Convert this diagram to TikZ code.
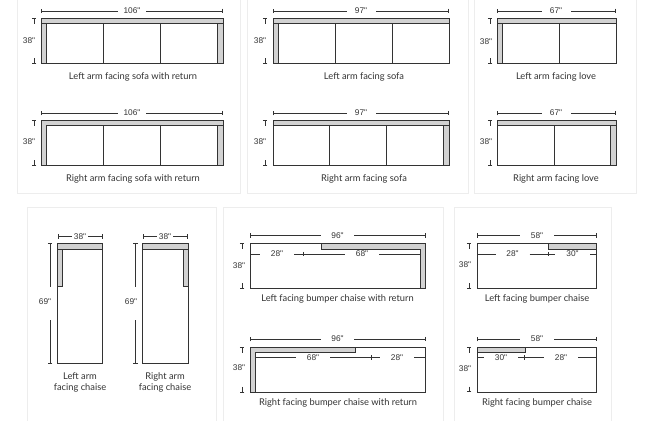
\documentclass[tikz,border=0pt]{standalone}
\usepackage{fontspec}
\setmainfont{Lato}
\newfontfamily\dimfont{Liberation Sans}
\usepackage{xcolor}
\usepackage{tikz}
\usetikzlibrary{arrows.meta}

\definecolor{linedark}{HTML}{333333}
\definecolor{armgray}{HTML}{D2D2D2}
\definecolor{panelgray}{HTML}{EDEDED}

\tikzset{
    panel/.style={draw=panelgray, line width=0.8pt, fill=white},
    body/.style={draw=linedark, line width=1pt, fill=white},
    arm/.style={draw=linedark, line width=1pt, fill=armgray},
    seam/.style={draw=linedark, line width=1pt},
    dimbar/.style={draw=linedark, line width=0.7pt},
    barstart/.style={dimbar, {Bar[width=4.5pt]}-},
    barend/.style={dimbar, -{Bar[width=4.5pt]}},
    dimtext/.style={font=\dimfont\fontsize{8.3}{10}\selectfont, text=linedark, inner sep=0pt, outer sep=0pt},
    caption/.style={font=\fontsize{9.3}{11.2}\selectfont, text=linedark, inner sep=0pt, align=center}
}

% width line with a gap round its label
\newcommand{\widthdim}[7]{
    \node[dimtext, minimum width=#6pt] (#1) at (#5,#4) {#7};
    \coordinate (#1a) at (#2,#4);
    \coordinate (#1b) at (#3,#4);
    \draw[barstart] (#1a) -- (#1);
    \draw[barstart] (#1b) -- (#1);
}
% top and bottom marks with the depth label
\newcommand{\depthdim}[6]{
    \coordinate (#1a) at (#2,#3);
    \coordinate (#1b) at (#2,#3+5.5);
    \coordinate (#1c) at (#2,#4-5.5);
    \coordinate (#1d) at (#2,#4);
    \draw[barstart] (#1a) -- (#1b);
    \draw[barend] (#1c) -- (#1d);
    \node[dimtext] (#1t) at (#5,#6) {38"};
}

\begin{document}
\begin{tikzpicture}[x=1pt, y=-1pt]
    \useasboundingbox (0,0) rectangle (650,420);

    % panels
    \draw[panel] (17,-5) rectangle (240,193);
    \draw[panel] (247,-5) rectangle (468,193);
    \draw[panel] (474,-5) rectangle (636,193);
    \draw[panel] (27,207) rectangle (216,425);
    \draw[panel] (223,207) rectangle (443,425);
    \draw[panel] (454,207) rectangle (611,425);

    % sofas with return
    \draw[body] (41,18.5) rectangle (223,64);
    \draw[arm] (41,23.7) rectangle (46.7,64);
    \draw[arm] (217.3,23.7) rectangle (223,64);
    \draw[arm] (41,18.5) rectangle (223,23.7);
    \foreach \x in {103,160} \draw[seam] (\x,23.7) -- (\x,64);
    \widthdim{wa}{41}{223}{11}{132}{28}{106"}
    \depthdim{da}{34}{18.5}{64}{29}{41}
    \node[caption] (capa) at (133,77) {Left arm facing sofa with return};

    \draw[body] (41,120.3) rectangle (223,165.8);
    \draw[arm] (41,120.3) -- (223,120.3) -- (223,165.8) -- (217.3,165.8) -- (217.3,125.6) -- (46.7,125.6) -- (46.7,165.8) -- (41,165.8) -- cycle;
    \draw[seam] (217.3,125.6) -- (223,125.6);
    \foreach \x in {103,160} \draw[seam] (\x,125.6) -- (\x,165.8);
    \widthdim{wb}{41}{223}{113}{132}{28}{106"}
    \depthdim{db}{34}{120.3}{165.8}{29}{142}
    \node[caption] (capb) at (133,179) {Right arm facing sofa with return};

    % sofas
    \draw[body] (273,18.5) rectangle (449,64);
    \draw[arm] (273,23.7) rectangle (278.3,64);
    \draw[arm] (273,18.5) rectangle (449,23.7);
    \foreach \x in {335,392} \draw[seam] (\x,23.7) -- (\x,64);
    \widthdim{wc}{273}{449}{11}{361}{29}{97"}
    \depthdim{dc}{265}{18.5}{64}{260}{41}
    \node[caption] (capc) at (364,77) {Left arm facing sofa};

    \draw[body] (273,120.3) rectangle (449,165.8);
    \draw[arm] (443.3,125.6) rectangle (449,165.8);
    \draw[arm] (273,120.3) rectangle (449,125.6);
    \foreach \x in {329,386} \draw[seam] (\x,125.6) -- (\x,165.8);
    \widthdim{wd}{273}{449}{113}{361}{29}{97"}
    \depthdim{dd}{265}{120.3}{165.8}{260}{142}
    \node[caption] (capd) at (364,179) {Right arm facing sofa};

    % love seats
    \draw[body] (497,18.5) rectangle (616,64);
    \draw[arm] (497,23.7) rectangle (502.7,64);
    \draw[arm] (497,18.5) rectangle (616,23.7);
    \draw[seam] (559,23.7) -- (559,64);
    \widthdim{we}{497}{616}{11}{556}{29}{67"}
    \depthdim{de}{490}{18.5}{64}{486}{42}
    \node[caption] (cape) at (556,77) {Left arm facing love};

    \draw[body] (497,120.3) rectangle (616,165.8);
    \draw[arm] (610.7,125.6) rectangle (616,165.8);
    \draw[arm] (497,120.3) rectangle (616,125.6);
    \draw[seam] (554,125.6) -- (554,165.8);
    \widthdim{wf}{497}{616}{113}{556}{29}{67"}
    \depthdim{df}{490}{120.3}{165.8}{486}{142}
    \node[caption] (capf) at (556,179) {Right arm facing love};

    % chaises
    \draw[body] (57.5,243.3) rectangle (102.7,363.3);
    \draw[arm] (57.5,249.7) rectangle (62.7,286.7);
    \draw[arm] (57.5,243.3) rectangle (102.7,249.7);
    \widthdim{wg}{57.5}{102.7}{236.5}{80}{16}{38"}
    \draw[barstart] (50,243.3) -- (50,287);
    \draw[barend] (50,320) -- (50,363.3);
    \node[dimtext] (hg) at (45,302) {69"};
    \node[caption] (capg) at (80,382.5) {Left arm\\[0.2pt]facing chaise};

    \draw[body] (142.7,243.3) rectangle (188,363.3);
    \draw[arm] (183,249.7) rectangle (188,286.7);
    \draw[arm] (142.7,243.3) rectangle (188,249.7);
    \widthdim{wh}{142.7}{188}{236.5}{165}{16}{38"}
    \draw[barstart] (135.3,243.3) -- (135.3,287);
    \draw[barend] (135.3,320) -- (135.3,363.3);
    \node[dimtext] (hh) at (131,302) {69"};
    \node[caption] (caph) at (165,382.5) {Right arm\\[0.2pt]facing chaise};

    % bumper chaises with return
    \draw[body] (250,243.3) rectangle (425.7,288.7);
    \draw[arm] (321.3,243.3) -- (425.7,243.3) -- (425.7,288.7) -- (420,288.7) -- (420,249) -- (321.3,249) -- cycle;
    \widthdim{wi}{250}{425.7}{235.3}{337.5}{33}{96"}
    \depthdim{di}{242}{243.3}{288.7}{239}{266}
    \node[dimtext, minimum width=34pt] (ia) at (277,254) {28"};
    \node[dimtext, minimum width=34pt] (ib) at (362,254) {68"};
    \coordinate (ic) at (250,254);
    \coordinate (id) at (303.7,254);
    \coordinate (ie) at (420,254);
    \draw[dimbar] (ic) -- (ia);
    \draw[barend] (ia) -- (id);
    \draw[dimbar] (id) -- (ib);
    \draw[dimbar] (ib) -- (ie);
    \node[caption] (capi) at (337.5,299) {Left facing bumper chaise with return};

    \draw[body] (250,347) rectangle (425.7,392.3);
    \draw[arm] (250,347) -- (355.7,347) -- (355.7,352.3) -- (255.7,352.3) -- (255.7,392.3) -- (250,392.3) -- cycle;
    \widthdim{wj}{250}{425.7}{339}{337.5}{33}{96"}
    \depthdim{dj}{242}{347}{392.3}{239}{368}
    \node[dimtext, minimum width=34pt] (ja) at (313,357.3) {68"};
    \node[dimtext, minimum width=34pt] (jb) at (397,357.3) {28"};
    \coordinate (jc) at (255.7,357.3);
    \coordinate (jd) at (371.7,357.3);
    \coordinate (je) at (425.7,357.3);
    \draw[dimbar] (jc) -- (ja);
    \draw[barend] (ja) -- (jd);
    \draw[dimbar] (jd) -- (jb);
    \draw[dimbar] (jb) -- (je);
    \node[caption] (capj) at (338,403) {Right facing bumper chaise with return};

    % bumper chaises
    \draw[body] (477.3,243.3) rectangle (596.7,288.7);
    \draw[arm] (548.7,243.3) rectangle (596.7,249);
    \widthdim{wk}{477.3}{596.7}{235.3}{537}{34}{58"}
    \depthdim{dk}{469}{243.3}{288.7}{465}{265}
    \node[dimtext, minimum width=34pt] (ka) at (512.5,254) {28"};
    \node[dimtext, minimum width=35pt] (kb) at (572.5,254) {30"};
    \coordinate (kc) at (477.3,254);
    \coordinate (kd) at (549,254);
    \coordinate (ke) at (596.7,254);
    \draw[dimbar] (kc) -- (ka);
    \draw[barend] (ka) -- (kd);
    \draw[dimbar] (kd) -- (kb);
    \draw[dimbar] (kb) -- (ke);
    \node[caption] (capk) at (537,299) {Left facing bumper chaise};

    \draw[body] (477.3,347) rectangle (596.7,392);
    \draw[arm] (477.3,347) rectangle (525.3,352);
    \widthdim{wl}{477.3}{596.7}{339}{537}{34}{58"}
    \depthdim{dl}{469}{347}{392}{465}{369}
    \node[dimtext, minimum width=34pt] (la) at (501,357.3) {30"};
    \node[dimtext, minimum width=34pt] (lb) at (561,357.3) {28"};
    \coordinate (lc) at (477.3,357.3);
    \coordinate (ld) at (525,357.3);
    \coordinate (le) at (596.7,357.3);
    \draw[dimbar] (lc) -- (la);
    \draw[barend] (la) -- (ld);
    \draw[dimbar] (ld) -- (lb);
    \draw[dimbar] (lb) -- (le);
    \node[caption] (capl) at (537,403) {Right facing bumper chaise};
\end{tikzpicture}
\end{document}
